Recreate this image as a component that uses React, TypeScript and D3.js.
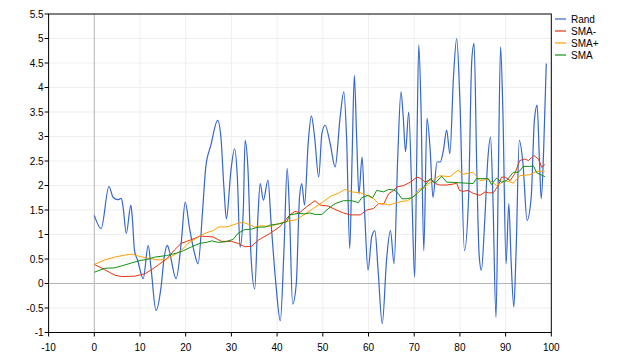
import React from "react";
import * as d3 from "d3";

const xTicks = [-10, 0, 10, 20, 30, 40, 50, 60, 70, 80, 90, 100];
const yTicks = [-1, -0.5, 0, 0.5, 1, 1.5, 2, 2.5, 3, 3.5, 4, 4.5, 5, 5.5];
const seriesNames = ["Rand", "SMA-", "SMA+", "SMA"];
const seriesColors = ["#3465d4", "#e5340e", "#ffa000", "#129012"];

const randX = [0, 1.5, 3.2, 4.1, 5.2, 5.9, 6.3, 7.0, 8.0, 8.3, 8.8, 9.5, 10.7, 11.8, 12.4, 13.5, 14.6, 15.3, 16.0, 16.4, 17.9, 19.0, 19.9, 20.8, 21.8, 22.7, 23.7, 24.4, 25.5, 27.0, 27.7, 28.4, 28.9, 29.9, 30.7, 31.3, 31.9, 32.6, 33.0, 33.6, 34.3, 35.1, 35.8, 36.3, 37.0, 38.0, 38.7, 39.8, 40.7, 41.5, 42.2, 42.7, 43.4, 44.2, 44.9, 45.4, 46.0, 46.8, 47.5, 48.2, 49.1, 49.8, 50.5, 51.6, 52.7, 53.8, 54.6, 55.2, 55.9, 56.4, 56.9, 57.4, 57.9, 58.6, 59.2, 59.9, 60.7, 61.4, 62.1, 63.0, 64.0, 64.8, 65.6, 66.4, 67.1, 67.6, 68.1, 68.8, 69.5, 70.1, 70.6, 71.0, 71.5, 72.1, 72.8, 73.5, 74.1, 75.0, 75.7, 76.4, 77.1, 77.8, 78.6, 79.3, 80.0, 81.0, 81.9, 82.6, 83.1, 83.7, 84.2, 84.7, 85.4, 86.1, 86.7, 87.2, 87.9, 88.4, 88.9, 89.4, 90.1, 90.7, 91.2, 91.8, 92.3, 93.0, 93.8, 94.7, 95.6, 96.3, 96.9, 97.4, 97.8, 98.3, 98.9];
const randY = [1.39, 1.12, 1.98, 1.76, 1.71, 1.74, 1.56, 1.02, 1.6, 1.36, 0.67, 0.47, 0.1, 0.78, 0.33, -0.55, -0.08, 0.54, 0.78, 0.67, 0.1, 0.81, 1.66, 1.15, 0.67, 0.4, 1.49, 2.38, 2.82, 3.33, 2.99, 1.9, 1.32, 2.31, 2.75, 2.17, 0.74, 1.49, 2.92, 2.38, 0.54, -0.11, 1.36, 2.04, 1.7, 2.11, 1.22, -0.08, -0.76, 0.67, 2.35, 1.49, -0.42, 0.0, 1.76, 2.04, 1.6, 2.86, 3.42, 2.99, 2.17, 3.06, 3.23, 2.86, 2.38, 3.4, 3.91, 2.99, 0.71, 2.52, 4.25, 2.99, 1.83, 2.58, 1.36, 0.27, 0.95, 1.08, 0.27, -0.82, 0.54, 1.08, 0.4, 2.58, 3.91, 3.4, 2.69, 3.5, 1.76, 0.13, 2.86, 4.87, 3.54, 0.67, 3.37, 2.72, 1.76, 2.48, 2.48, 2.72, 3.13, 2.65, 4.22, 5.0, 3.74, 0.67, 1.76, 4.56, 4.9, 2.31, 0.6, 0.27, 1.22, 2.52, 2.99, 1.83, -0.69, 2.17, 4.83, 3.54, 0.4, 1.63, 0.47, -0.48, 0.67, 2.92, 2.45, 1.29, 1.76, 3.33, 3.64, 2.52, 1.73, 2.65, 4.49];

const smaMinusX = [0, 2.3, 4.5, 6, 8.9, 11.1, 12.5, 14, 15.8, 17.6, 19, 20.5, 22, 23.1, 24.5, 26, 27.8, 30, 31.4, 32.9, 34.4, 35.8, 38.4, 40.6, 42.8, 43.9, 45, 46.5, 48.3, 49.4, 51.2, 52.7, 54.5, 56, 58.2, 59.6, 61.1, 62.2, 63.3, 64.4, 65.5, 66.2, 67.7, 69.2, 70.6, 71.3, 72.4, 73.5, 74.6, 75.6, 77.1, 78.6, 79.3, 79.9, 80.7, 81.8, 82.9, 84.4, 85.5, 86.2, 87.3, 88.4, 89.1, 89.9, 91.0, 92.0, 93.1, 94.2, 95.0, 96.2, 97.2, 97.9, 98.6];
const smaMinusY = [0.39, 0.28, 0.17, 0.14, 0.15, 0.2, 0.28, 0.38, 0.5, 0.69, 0.82, 0.87, 0.92, 0.97, 0.96, 0.95, 0.86, 0.86, 0.82, 0.75, 0.76, 0.88, 1.02, 1.16, 1.4, 1.47, 1.45, 1.57, 1.69, 1.6, 1.58, 1.51, 1.44, 1.4, 1.4, 1.5, 1.53, 1.63, 1.62, 1.83, 1.9, 1.97, 2.0, 2.07, 2.17, 2.15, 2.07, 2.12, 2.04, 2.01, 2.01, 2.03, 2.05, 1.9, 1.88, 1.9, 1.84, 1.8, 1.87, 1.85, 1.85, 2.0, 2.17, 2.17, 2.1, 2.24, 2.51, 2.54, 2.51, 2.61, 2.54, 2.37, 2.43];

const smaPlusX = [0, 2.3, 4.5, 6.7, 8.2, 9.6, 11.5, 13.3, 14.4, 15.8, 18.0, 19.1, 20.5, 22.3, 24.1, 26.0, 27.1, 29.3, 31.1, 32.5, 34.0, 35.1, 36.6, 38.4, 40.6, 42.8, 44.2, 45.8, 47.9, 50.1, 51.9, 53.4, 54.8, 56.3, 58.2, 59.6, 61.1, 62.2, 63.3, 64.4, 65.5, 67.0, 68.5, 70.0, 71.1, 72.1, 72.9, 74.0, 75.6, 77.8, 79.6, 80.7, 82.9, 84.4, 86.2, 88.0, 89.9, 91.7, 93.1, 95.3, 96.8, 98.6];
const smaPlusY = [0.39, 0.48, 0.54, 0.58, 0.6, 0.56, 0.52, 0.49, 0.48, 0.5, 0.61, 0.68, 0.82, 0.92, 1.02, 1.08, 1.15, 1.16, 1.22, 1.25, 1.2, 1.15, 1.18, 1.16, 1.23, 1.28, 1.3, 1.4, 1.53, 1.67, 1.79, 1.84, 1.92, 1.87, 1.85, 1.8, 1.73, 1.63, 1.63, 1.6, 1.63, 1.67, 1.69, 1.78, 1.93, 1.94, 2.02, 2.1, 2.2, 2.18, 2.31, 2.23, 2.27, 2.1, 2.13, 2.0, 2.1, 2.05, 2.2, 2.22, 2.29, 2.29];

const smaX = [0, 2.3, 4.5, 6.0, 8.2, 10.0, 11.5, 13.3, 15.8, 18.0, 19.5, 21.3, 23.1, 24.6, 25.7, 27.1, 28.6, 30.4, 31.4, 32.9, 34.4, 35.8, 37.3, 38.4, 40.6, 42.1, 42.8, 44.6, 46.0, 47.2, 48.3, 49.8, 51.6, 52.7, 54.5, 56.3, 57.8, 58.5, 60.0, 60.9, 61.8, 63.3, 64.4, 65.5, 66.2, 67.3, 68.4, 69.5, 70.6, 72.1, 73.5, 74.6, 76.0, 77.1, 82.9, 83.6, 86.2, 86.9, 88.0, 89.1, 90.2, 91.7, 92.8, 93.9, 95.3, 96.1, 96.8, 98.6];
const smaY = [0.23, 0.31, 0.32, 0.36, 0.42, 0.47, 0.49, 0.54, 0.57, 0.62, 0.67, 0.75, 0.82, 0.84, 0.87, 0.84, 0.85, 0.9, 1.02, 1.1, 1.11, 1.15, 1.15, 1.19, 1.22, 1.26, 1.4, 1.43, 1.42, 1.44, 1.41, 1.41, 1.56, 1.63, 1.69, 1.69, 1.65, 1.75, 1.8, 1.75, 1.9, 1.87, 1.92, 1.91, 1.87, 1.73, 1.73, 1.75, 1.83, 1.97, 2.14, 2.05, 2.19, 2.07, 2.04, 2.14, 2.14, 2.02, 2.15, 2.07, 2.1, 2.27, 2.27, 2.39, 2.39, 2.4, 2.26, 2.18];

const W = 640;
const H = 360;
const left = 48.6;
const right = 551.3;
const top = 14;
const bottom = 332.5;
const font = "'Liberation Sans', Arial, sans-serif";

export default function App() {
  const x = d3.scaleLinear().domain([-10, 100]).range([left, right]);
  const y = d3.scaleLinear().domain([-1, 5.5]).range([bottom, top]);

  const mk = (xs: number[], ys: number[], curve: any) =>
    d3
      .line<number>()
      .x((_, i) => x(xs[i]))
      .y((v) => y(v))
      .curve(curve)(ys) as string;

  const paths = [
    mk(randX, randY, d3.curveMonotoneX),
    mk(smaMinusX, smaMinusY, d3.curveLinear),
    mk(smaPlusX, smaPlusY, d3.curveLinear),
    mk(smaX, smaY, d3.curveLinear),
  ];

  return (
    <svg
      width={W}
      height={H}
      style={{ position: "absolute", left: 0, top: 0, background: "#fff" }}
      fontFamily={font}
    >
      <rect x={0} y={0} width={W} height={H} fill="#fff" />
      {/* grid */}
      {xTicks.map((t) =>
        t === 0 || t === -10 || t === 100 ? null : (
          <line key={"gx" + t} x1={x(t)} x2={x(t)} y1={top} y2={bottom} stroke="#efefef" />
        )
      )}
      {yTicks.map((t) =>
        t === 0 || t === -1 || t === 5.5 ? null : (
          <line key={"gy" + t} x1={left} x2={right} y1={y(t)} y2={y(t)} stroke="#efefef" />
        )
      )}
      <line x1={x(0)} x2={x(0)} y1={top} y2={bottom} stroke="#b4b4b4" />
      <line x1={left} x2={right} y1={y(0)} y2={y(0)} stroke="#b4b4b4" />

      {/* series */}
      <g fill="none" strokeLinejoin="round">
        {paths.map((d, i) => (
          <path key={i} d={d} stroke={seriesColors[i]} strokeWidth={i === 0 ? 1.2 : 1} />
        ))}
      </g>

      {/* frame */}
      <rect x={left} y={top} width={right - left} height={bottom - top} fill="none" stroke="#000" />

      {/* ticks */}
      {yTicks.map((t) => (
        <g key={"ty" + t}>
          <line x1={left - 4} x2={left} y1={y(t)} y2={y(t)} stroke="#000" />
          <text x={left - 5} y={y(t)} dy="0.35em" textAnchor="end" fontSize={10} fill="#000">
            {String(t)}
          </text>
        </g>
      ))}
      {xTicks.map((t) => (
        <g key={"tx" + t}>
          <line x1={x(t)} x2={x(t)} y1={bottom} y2={bottom + 4} stroke="#000" />
          <text x={x(t)} y={bottom + 18} textAnchor="middle" fontSize={10} fill="#000">
            {String(t)}
          </text>
        </g>
      ))}

      {/* legend */}
      {seriesNames.map((n, i) => (
        <g key={n}>
          <line x1={555} x2={566} y1={19 + i * 12} y2={19 + i * 12} stroke={seriesColors[i]} strokeWidth={1.2} />
          <text x={571} y={19 + i * 12} dy="0.35em" fontSize={10} fill="#000">
            {n}
          </text>
        </g>
      ))}
    </svg>
  );
}
